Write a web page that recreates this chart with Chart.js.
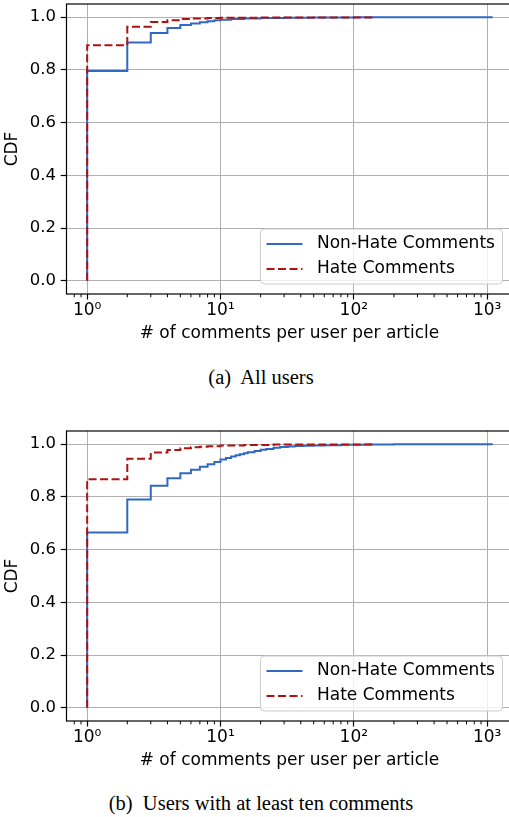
<!DOCTYPE html>
<html>
<head>
<meta charset="utf-8">
<script src="https://cdn.jsdelivr.net/npm/chart.js@4"></script>
<style>
html, body { margin: 0; padding: 0; background: #fff; overflow: hidden; }
body { width: 509px; height: 817px; position: relative; }
canvas { position: absolute; left: 0; }
#chartA { top: 0; }
#chartB { top: 427px; }
.caption {
    position: absolute; left: 0; width: 522px; text-align: center;
    font-family: "Liberation Serif", "Times New Roman", serif;
    font-size: 20.5px; line-height: 24px; white-space: pre; color: #000;
}
</style>
</head>
<body>
<canvas id="chartA" width="520" height="350"></canvas>
<div class="caption" style="top:365px">(a)  All users</div>
<canvas id="chartB" width="520" height="350"></canvas>
<div class="caption" style="top:791px">(b)  Users with at least ten comments</div>
<script>
const seriesLabels = ["Non-Hate Comments", "Hate Comments"];
const xTitle = "# of comments per user per article";
const yTitle = "CDF";

// (a) all users
const nonHateCountsA = [1, 1, 2, 3, 4, 5, 6, 7, 8, 9, 10, 12, 15, 20, 30, 50, 100, 1100];
const nonHateCdfA = [0, 0.796, 0.904, 0.940, 0.959, 0.970, 0.976, 0.981, 0.985, 0.988, 0.990, 0.993, 0.995, 0.997, 0.998, 0.999, 1.0, 1.0];
const hateCountsA = [1, 1, 2, 3, 4, 5, 6, 8, 10, 20, 140];
const hateCdfA = [0, 0.894, 0.964, 0.982, 0.988, 0.993, 0.995, 0.997, 0.998, 0.999, 1.0];

// (b) users with at least ten comments
const nonHateCountsB = [1, 1, 2, 3, 4, 5, 6, 7, 8, 9, 10, 11, 12, 13, 14, 15, 16, 18, 20, 22, 25, 28, 32, 36, 42, 50, 60, 80, 120, 200, 1100];
const nonHateCdfB = [0, 0.665, 0.790, 0.842, 0.871, 0.890, 0.903, 0.914, 0.924, 0.932, 0.942, 0.948, 0.953, 0.958, 0.962, 0.966, 0.969, 0.974, 0.979, 0.982, 0.986, 0.989, 0.991, 0.993, 0.994, 0.995, 0.996, 0.998, 0.999, 1.0, 1.0];
const hateCountsB = [1, 1, 2, 3, 4, 5, 6, 7, 8, 10, 15, 25, 140];
const hateCdfB = [0, 0.867, 0.945, 0.968, 0.978, 0.985, 0.988, 0.990, 0.992, 0.995, 0.997, 0.999, 1.0];

const xMajorTicks = [1, 10, 100, 1000];
const xMajorLabels = ["10\u2070", "10\u00b9", "10\u00b2", "10\u00b3"];
const yTicks = [0, 0.2, 0.4, 0.6, 0.8, 1.0];

const X_MIN = Math.pow(10, -0.152);
const X_MAX = Math.pow(10, 3.19);

const xMinorTicks = [];
[0.1, 1, 10, 100].forEach(d => {
    for (let k = 2; k <= 9; k++) {
        const v = d * k;
        if (v >= X_MIN && v <= X_MAX) xMinorTicks.push(v);
    }
});

const BLUE = "#3068c4";
const RED = "#b01010";
const GRID = "#b0b0b0";

Chart.defaults.font.family = "'DejaVu Sans'";
Chart.defaults.color = "#000";

function toPoints(xs, ys) {
    return xs.map((x, i) => ({ x: x, y: ys[i] }));
}

const axisExtras = {
    id: "axisExtras",
    afterDatasetsDraw(chart) {
        const ctx = chart.ctx;
        const a = chart.chartArea;
        const x = chart.scales.x;
        ctx.save();

        // frame
        ctx.strokeStyle = "#000";
        ctx.lineWidth = 1.2;
        ctx.strokeRect(a.left, a.top, a.right - a.left, a.bottom - a.top);

        // minor ticks on the log axis
        ctx.lineWidth = 1;
        ctx.beginPath();
        xMinorTicks.forEach(v => {
            const px = x.getPixelForValue(v);
            ctx.moveTo(px, a.bottom);
            ctx.lineTo(px, a.bottom + 3.3);
        });
        ctx.stroke();

        // legend, lower right
        const w = 242, h = 55;
        const bx = a.right - 10 - w;
        const by = a.bottom - 10 - h;
        ctx.beginPath();
        ctx.roundRect(bx, by, w, h, 4);
        ctx.fillStyle = "rgba(255,255,255,0.8)";
        ctx.fill();
        ctx.strokeStyle = "#cccccc";
        ctx.lineWidth = 1;
        ctx.stroke();

        ctx.font = "17px 'DejaVu Sans'";
        ctx.textBaseline = "middle";
        chart.data.datasets.forEach((ds, i) => {
            const cy = by + 15 + i * 25;
            ctx.beginPath();
            ctx.setLineDash(ds.borderDash || []);
            ctx.strokeStyle = ds.borderColor;
            ctx.lineWidth = ds.borderWidth;
            ctx.moveTo(bx + 6, cy);
            ctx.lineTo(bx + 42, cy);
            ctx.stroke();
            ctx.setLineDash([]);
            ctx.fillStyle = "#000";
            ctx.fillText(ds.label, bx + 56.5, cy);
        });
        ctx.restore();
    }
};

function makeChart(id, nhX, nhY, hX, hY) {
    const ctx = document.getElementById(id).getContext("2d");
    return new Chart(ctx, {
        type: "line",
        data: {
            datasets: [{
                label: seriesLabels[0],
                data: toPoints(nhX, nhY),
                borderColor: BLUE,
                borderWidth: 2,
                stepped: "before",
                pointRadius: 0,
                order: 1
            }, {
                label: seriesLabels[1],
                data: toPoints(hX, hY),
                borderColor: RED,
                borderWidth: 2,
                borderDash: [8, 3.5],
                stepped: "before",
                pointRadius: 0,
                order: 0
            }]
        },
        options: {
            responsive: false,
            animation: false,
            events: [],
            layout: { padding: { top: 4, right: 7.5, bottom: 0, left: 0 } },
            plugins: { legend: { display: false }, tooltip: { enabled: false } },
            scales: {
                x: {
                    type: "logarithmic",
                    min: X_MIN,
                    max: X_MAX,
                    afterBuildTicks: s => { s.ticks = xMajorTicks.map(v => ({ value: v })); },
                    afterFit: s => {
                        s.height = 56;
                        s.paddingLeft = 0; s.paddingRight = 0;
                    },
                    ticks: {
                        autoSkip: false,
                        maxRotation: 0,
                        padding: 1,
                        font: { size: 17 },
                        callback: (v, i) => xMajorLabels[i]
                    },
                    grid: { color: GRID, lineWidth: 1, tickLength: 5.5, tickColor: "#000", tickWidth: 1.2 },
                    border: { display: false },
                    title: {
                        display: true,
                        text: xTitle,
                        font: { size: 17 },
                        padding: { top: 0, bottom: 6.5 }
                    }
                },
                y: {
                    min: -0.05,
                    max: 1.05,
                    afterBuildTicks: s => { s.ticks = yTicks.map(v => ({ value: v })); },
                    afterFit: s => {
                        s.width = 66.5;
                        s.paddingTop = 0; s.paddingBottom = 0;
                    },
                    ticks: {
                        padding: 4.7,
                        font: { size: 16.5 },
                        callback: v => v.toFixed(1)
                    },
                    grid: { color: GRID, lineWidth: 1, tickLength: 5.8, tickColor: "#000", tickWidth: 1.2 },
                    border: { display: false },
                    title: {
                        display: true,
                        text: yTitle,
                        font: { size: 17 },
                        padding: { top: 2.3, bottom: 0 }
                    }
                }
            }
        },
        plugins: [axisExtras]
    });
}

makeChart("chartA", nonHateCountsA, nonHateCdfA, hateCountsA, hateCdfA);
makeChart("chartB", nonHateCountsB, nonHateCdfB, hateCountsB, hateCdfB);
</script>
</body>
</html>
